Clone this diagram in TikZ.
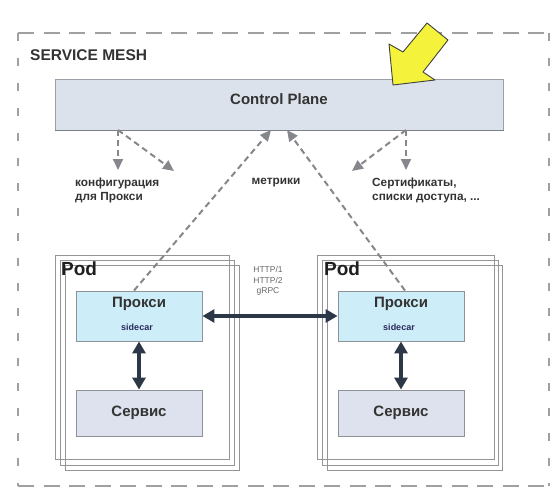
\documentclass[tikz,border=0pt]{standalone}
\usepackage{fontspec}
\setmainfont{Liberation Sans}
\usetikzlibrary{arrows.meta,calc}
\definecolor{framec}{HTML}{A0A0A0}
\definecolor{cpfill}{HTML}{DCE2EC}
\definecolor{cpborder}{HTML}{9A9FA8}
\definecolor{proxyfill}{HTML}{CDEEF8}
\definecolor{svcfill}{HTML}{DDE2EE}
\definecolor{boxborder}{HTML}{8E9299}
\definecolor{podc}{HTML}{959595}
\definecolor{dashc}{HTML}{85878C}
\definecolor{darkc}{HTML}{2C3848}
\definecolor{labelc}{HTML}{333333}
\definecolor{yel}{HTML}{F4F23A}
\tikzset{
  outerh/.style={draw=framec, line width=2.8pt, dash pattern=on 16pt off 9.5pt},
  outerv/.style={draw=framec, line width=2.8pt, dash pattern=on 8pt off 17pt},
  cpbox/.style={draw=cpborder, fill=cpfill, line width=1pt},
  proxybox/.style={draw=boxborder, fill=proxyfill, line width=0.9pt, minimum width=126pt, minimum height=50pt, inner sep=0pt},
  svcbox/.style={draw=boxborder, fill=svcfill, line width=0.9pt, minimum width=126pt, minimum height=46pt, inner sep=0pt},
  podframe/.style={draw=podc, line width=0.9pt},
  lbl/.style={font=\bfseries\fontsize{11.8}{14}\selectfont, text=labelc, align=left, inner sep=0pt},
  boxtxt/.style={font=\bfseries\fontsize{15}{16}\selectfont, text=labelc, inner sep=0pt},
  dasharr/.style={draw=dashc, line width=2pt, dash pattern=on 6pt off 4pt, -{Triangle[length=11pt,width=10pt]}},
  darr/.style={draw=darkc, line width=3.2pt, {Triangle[length=12pt,width=13pt]}-{Triangle[length=12pt,width=13pt]}}
}
\begin{document}
\begin{tikzpicture}[x=1pt,y=-1pt]
\useasboundingbox (0,0) rectangle (559,492);
% outer dashed frame
\draw[outerh] (18,33) -- (551,33);
\draw[outerh] (18,486) -- (551,486);
\draw[outerv] (18,33) -- (18,486);
\draw[outerv] (549,33) -- (549,486);
\node[font=\bfseries\fontsize{15.5}{18}\selectfont, text=labelc, anchor=west, inner sep=0pt] (mesh) at (30,55) {SERVICE MESH};
% control plane
\node[cpbox, minimum width=448pt, minimum height=50pt, inner sep=0pt] (cp) at (279,105) {};
\draw[draw=cpborder!80!black, line width=1.6pt] (cp.south west) -- (cp.south east);
\node[font=\bfseries\fontsize{15}{16}\selectfont, text=labelc, inner sep=0pt] (cptext) at (279,99) {Control Plane};
% pods
\draw[podframe] (55,255) rectangle (229,459);
\draw[podframe] (60,260) rectangle (234,465);
\draw[podframe] (65,265) rectangle (239,470);
\draw[podframe] (317,255) rectangle (494,459);
\draw[podframe] (322,260) rectangle (498,465);
\draw[podframe] (327,265) rectangle (502,470);
\node[font=\bfseries\fontsize{19}{22}\selectfont, text=black!88, anchor=north west, inner sep=0pt] (podl) at (61,262) {Pod};
\node[font=\bfseries\fontsize{19}{22}\selectfont, text=black!88, anchor=north west, inner sep=0pt] (podr) at (324,262) {Pod};
% proxies and services
\node[proxybox] (lp) at (139,316) {};
\node[proxybox] (rp) at (401,316) {};
\node[svcbox] (ls) at (139,413) {};
\node[svcbox] (rs) at (401,413) {};
\node[boxtxt] (lpt) at (139,304) {Прокси};
\node[boxtxt] (rpt) at (401,304) {Прокси};
\node[font=\bfseries\fontsize{9}{10}\selectfont, text=labelc!80!blue, inner sep=0pt] (lsc) at (137,327.5) {sidecar};
\node[font=\bfseries\fontsize{9}{10}\selectfont, text=labelc!80!blue, inner sep=0pt] (rsc) at (399,327.5) {sidecar};
\node[boxtxt] (lst) at (139,413) {Сервис};
\node[boxtxt] (rst) at (401,413) {Сервис};
% dark arrows
\draw[darr] (lp.south) -- (ls.north);
\draw[darr] (rp.south) -- (rs.north);
\draw[darr] (lp.east) -- (rp.west);
\node[font=\fontsize{8.5}{10.3}\selectfont, text=black!60, align=center, inner sep=0pt] (proto) at (268,281) {HTTP/1\\HTTP/2\\gRPC};
% dashed arrows from control plane
\coordinate (c1) at (118,130);
\coordinate (c2) at (406,130);
\coordinate (t1) at (118,170);
\coordinate (t2) at (174,171);
\coordinate (t3) at (406,170);
\coordinate (t4) at (352,171);
\coordinate (m1) at (271,130);
\coordinate (m2) at (287,130);
\draw[dasharr] (c1) -- (t1);
\draw[dasharr] (c1) -- (t2);
\draw[dasharr] (c2) -- (t3);
\draw[dasharr] (c2) -- (t4);
\draw[dasharr] ($(lp.north)+(-5,0)$) -- (m1);
\draw[dasharr] ($(rp.north)+(4,0)$) -- (m2);
% labels
\node[lbl, anchor=north west] (cfg) at (75,178) {конфигурация\\для Прокси};
\node[lbl, anchor=north] (met) at (276,178) {метрики};
\node[lbl, anchor=north west] (cert) at (372,178) {Сертификаты,\\списки доступа, ...};
% yellow arrow
\draw[fill=yel, draw=black!75, line width=0.9pt, line join=round]
  (427,23) -- (403,52) -- (389,44) -- (393,85) -- (435,80) -- (423,72) -- (448,40) -- cycle;
\end{tikzpicture}
\end{document}
